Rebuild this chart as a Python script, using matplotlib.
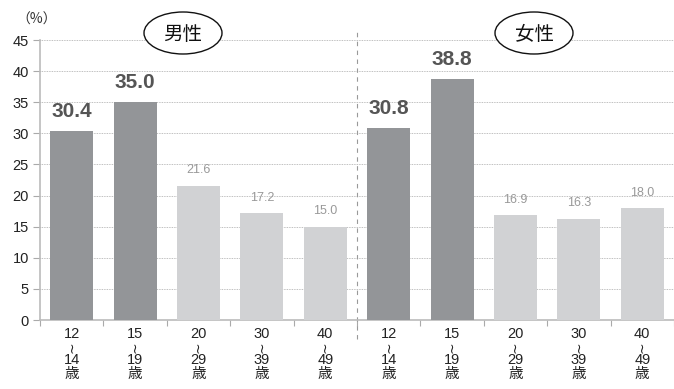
import matplotlib
matplotlib.use("Agg")
import matplotlib.pyplot as plt
from matplotlib.patches import Ellipse

plt.rcParams['font.family'] = ['Noto Sans CJK JP', 'DejaVu Sans']

groups = ["男性", "女性"]
age_from = ["12", "15", "20", "30", "40"]
age_to = ["14", "19", "29", "39", "49"]
age_unit = "歳"
male = [30.4, 35.0, 21.6, 17.2, 15.0]
female = [30.8, 38.8, 16.9, 16.3, 18.0]
yticks = [0, 5, 10, 15, 20, 25, 30, 35, 40, 45]

dark = "#939598"
light = "#d1d2d4"

W, H = 674, 389
fig = plt.figure(figsize=(W/100, H/100), dpi=100)
ax = fig.add_axes([40/W, 1-320/H, (674-40)/W, (320-40)/H])

values = male + female
xs = list(range(len(values)))
colors = [dark if i % 5 < 2 else light for i in xs]
ax.bar(xs, values, width=0.68, color=colors, zorder=3)

for x, v, c in zip(xs, values, colors):
    if c == dark:
        ax.text(x, v + 1.6, f"{v:.1f}", ha='center', va='bottom', fontsize=15,
                fontweight='bold', color='#555555', family='Liberation Sans', zorder=4)
    else:
        ax.text(x, v + 1.5, f"{v:.1f}", ha='center', va='bottom', fontsize=9,
                color='#999999', family='Liberation Sans', zorder=4)

ax.set_xlim(-0.5, 9.5)
ax.set_ylim(0, 45)
ax.set_yticks(yticks)
ax.set_yticklabels([str(t) for t in yticks], fontsize=10.5, color='#222222', family='Liberation Sans')
ax.yaxis.grid(True, linestyle=(0, (1, 1)), color='#aaaaaa', linewidth=0.6, zorder=0)
ax.tick_params(axis='y', length=5, color='#aaaaaa', pad=3)

ax.set_xticks([i - 0.5 for i in range(11)])
ax.set_xticklabels([])
ax.tick_params(axis='x', length=4, color='#aaaaaa', direction='out')

# x category labels (vertical style: from / wave / to / 歳)
px = 72 / 100  # points per pixel
for i, x in enumerate(xs):
    k = i % 5
    for txt, off, kw in [(age_from[k], 14, dict(family='Liberation Sans', fontsize=10.5)),
                         ("~", 27, dict(family='DejaVu Sans', rotation=90, fontsize=10)),
                         (age_to[k], 40, dict(family='Liberation Sans', fontsize=10.5)),
                         (age_unit, 54, dict(fontsize=10.5))]:
        ax.annotate(txt, xy=(x, 0), xycoords=('data', 'axes fraction'),
                    xytext=(0, -off * px), textcoords='offset points',
                    ha='center', va='center',
                    color='#222222', annotation_clip=False, **kw)

for s in ['top', 'right']:
    ax.spines[s].set_visible(False)
ax.spines['left'].set_color('#bbbbbb')
ax.spines['left'].set_linewidth(1.2)
ax.spines['bottom'].set_color('#bbbbbb')
ax.spines['bottom'].set_linewidth(1.2)

# divider
ax.plot([4.5, 4.5], [-3, 47], linestyle=(0, (4, 4)), color='#999999', linewidth=0.8,
        clip_on=False, zorder=2)

# group labels with ellipses
for cx, g in zip([183, 534], groups):
    e = Ellipse((cx/W, 1-33/H), 78/W, 42/H, transform=fig.transFigure,
                fill=True, facecolor='white', edgecolor='#111111', linewidth=1.0, zorder=5)
    fig.patches.append(e)
    fig.text(cx/W, 1-34/H, g, ha='center', va='center', fontsize=14, color='#111111', zorder=6)

fig.text(37/W, 1-20/H, "（%）", ha='center', va='center', fontsize=10, color='#333333')

fig.savefig("out.png", dpi=100)
